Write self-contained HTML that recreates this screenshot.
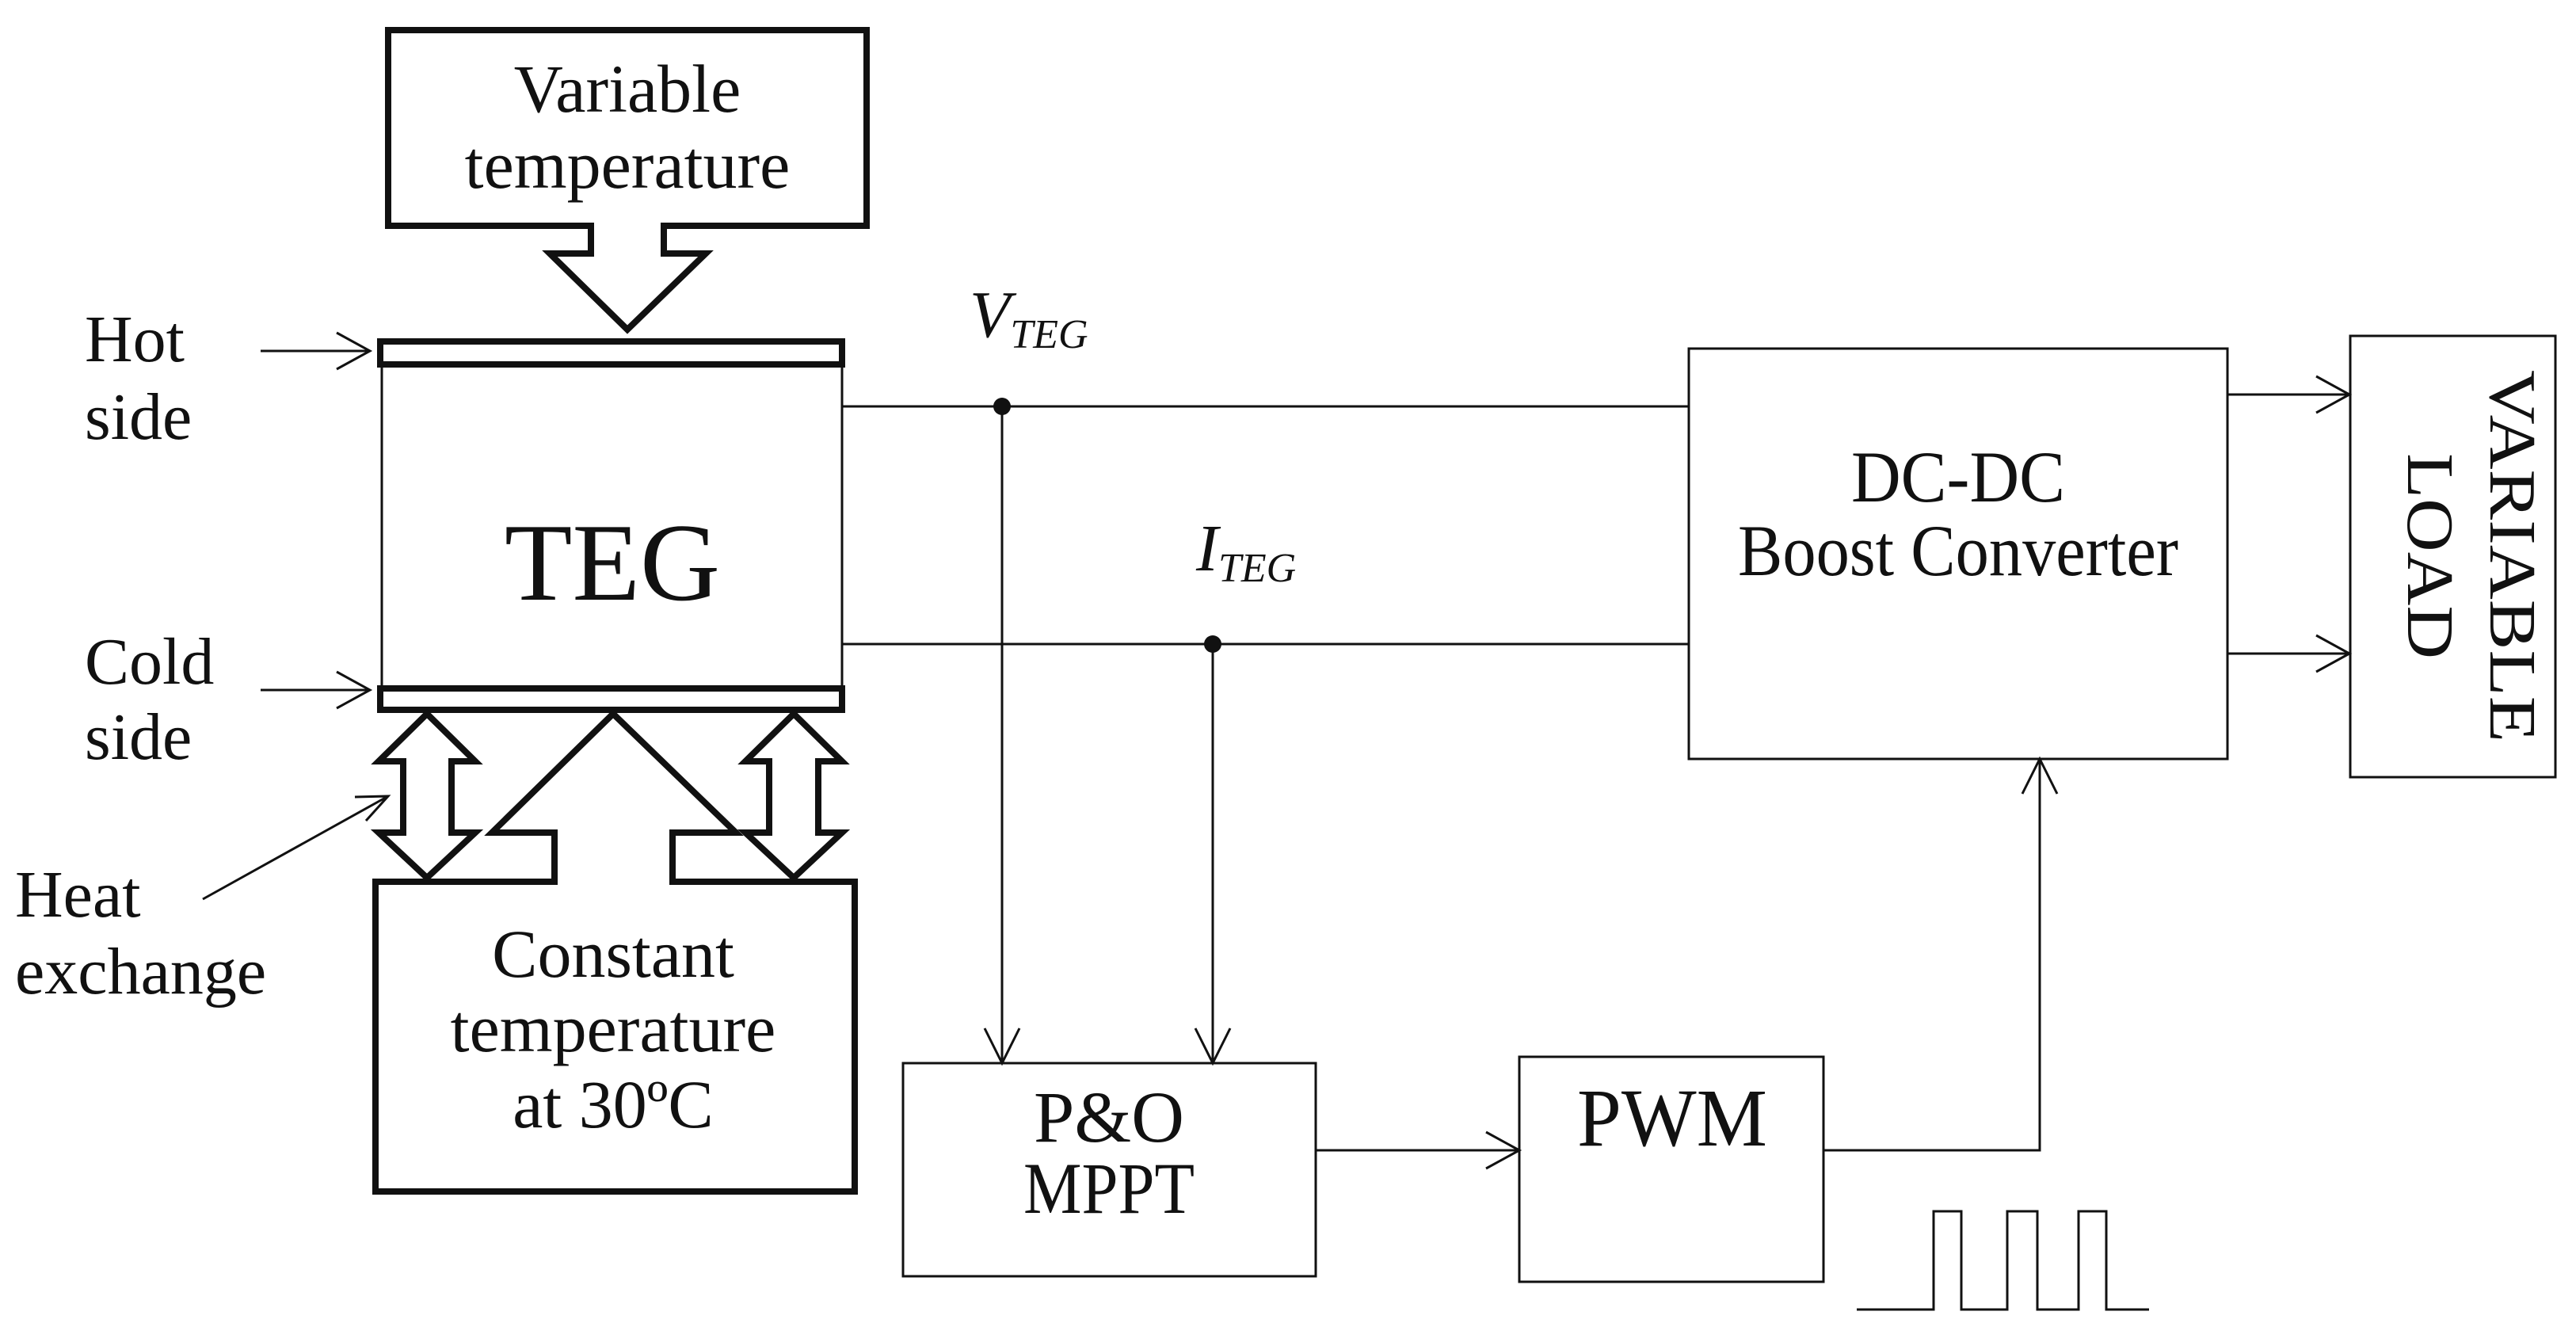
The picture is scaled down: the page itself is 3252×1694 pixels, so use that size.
<!DOCTYPE html>
<html><head><meta charset="utf-8"><style>
html,body{margin:0;padding:0;background:#fff;}
svg{display:block;}
text{font-family:"Liberation Serif",serif;fill:#111;}
</style></head><body>
<svg width="3252" height="1694" viewBox="0 0 3252 1694" xmlns="http://www.w3.org/2000/svg">
<g fill="none" stroke="#111" stroke-linejoin="miter">
<path d="M490 38 H1094 V285 H838 V320 H891 L792 416 L694 320 H746 V285 H490 Z" stroke-width="8" fill="#fff"/>
<rect x="480" y="431" width="583" height="29" stroke-width="8"/>
<rect x="482" y="462" width="581" height="407" stroke-width="3"/>
<rect x="480" y="869" width="583" height="27" stroke-width="8"/>
<path d="M539 901 L600 961 H570 V1051 H600 L539 1108 L478 1051 H509 V961 H478 Z" stroke-width="8"/>
<path d="M1002 901 L1063 961 H1033 V1051 H1063 L1002 1108 L941 1051 H971 V961 H941 Z" stroke-width="8"/>
<path d="M474 1113 H700 V1051 H621 L774 901 L929 1051 H849 V1113 H1079 V1504 H474 Z" stroke-width="8" fill="#fff"/>
<g stroke-width="3">
<path d="M329 443 H467 M425 420 L467 443 L425 466"/>
<path d="M329 871 H467 M425 848 L467 871 L425 894"/>
<path d="M256 1135 L490 1005 M448 1006 L490 1005 L462 1036"/>
</g>
<g stroke-width="3">
<path d="M1063 513 H2132"/>
<path d="M1063 813 H2132"/>
<path d="M1265 513 V1342 M1243 1298 L1265 1342 L1287 1298"/>
<path d="M1531 813 V1342 M1509 1298 L1531 1342 L1553 1298"/>
<rect x="1140" y="1342" width="521" height="269"/>
<rect x="1918" y="1334" width="384" height="284"/>
<rect x="2132" y="440" width="680" height="518"/>
<rect x="2967" y="424" width="259" height="557"/>
<path d="M1661 1452 H1918 M1876 1429 L1918 1452 L1876 1475"/>
<path d="M2302 1452 H2575 V958 M2553 1002 L2575 958 L2597 1002"/>
<path d="M2812 498 H2966 M2924 475 L2966 498 L2924 521"/>
<path d="M2812 825 H2966 M2924 802 L2966 825 L2924 848"/>
<path d="M2344 1653 H2441 V1529 H2476 V1653 H2534 V1529 H2572 V1653 H2624 V1529 H2659 V1653 H2713"/>
</g>
</g>
<circle cx="1265" cy="513" r="11" fill="#111"/>
<circle cx="1531" cy="813" r="11" fill="#111"/>
<g font-size="86" text-anchor="middle">
<text x="792" y="141">Variable</text>
<text x="792" y="237">temperature</text>
<text x="774" y="1233">Constant</text>
<text x="774" y="1327">temperature</text>
<text x="774" y="1423">at 30ºC</text>
</g>
<text x="773" y="757" font-size="140" text-anchor="middle">TEG</text>
<g font-size="84">
<text x="107" y="456">Hot</text>
<text x="107" y="554">side</text>
<text x="107" y="863">Cold</text>
<text x="107" y="958">side</text>
<text x="19" y="1157">Heat</text>
<text x="19" y="1254">exchange</text>
</g>
<text x="1224" y="425" font-size="84" font-style="italic">V<tspan font-size="52" dy="14">TEG</tspan></text>
<text x="1510" y="720" font-size="84" font-style="italic">I<tspan font-size="52" dy="14">TEG</tspan></text>
<g text-anchor="middle" font-size="92">
<text x="2472" y="633" textLength="270" lengthAdjust="spacingAndGlyphs">DC-DC</text>
<text x="2472" y="726" textLength="556" lengthAdjust="spacingAndGlyphs">Boost Converter</text>
<text x="1400" y="1441" textLength="190" lengthAdjust="spacingAndGlyphs">P&amp;O</text>
<text x="1400" y="1531" textLength="216" lengthAdjust="spacingAndGlyphs">MPPT</text>
<text x="2111" y="1446" font-size="104" textLength="240" lengthAdjust="spacingAndGlyphs">PWM</text>
</g>
<g font-size="84" text-anchor="middle">
<text transform="translate(3144 702) rotate(90)" textLength="470" lengthAdjust="spacingAndGlyphs">VARIABLE</text>
<text transform="translate(3040 702) rotate(90)" textLength="260" lengthAdjust="spacingAndGlyphs">LOAD</text>
</g>
</svg>
</body></html>
